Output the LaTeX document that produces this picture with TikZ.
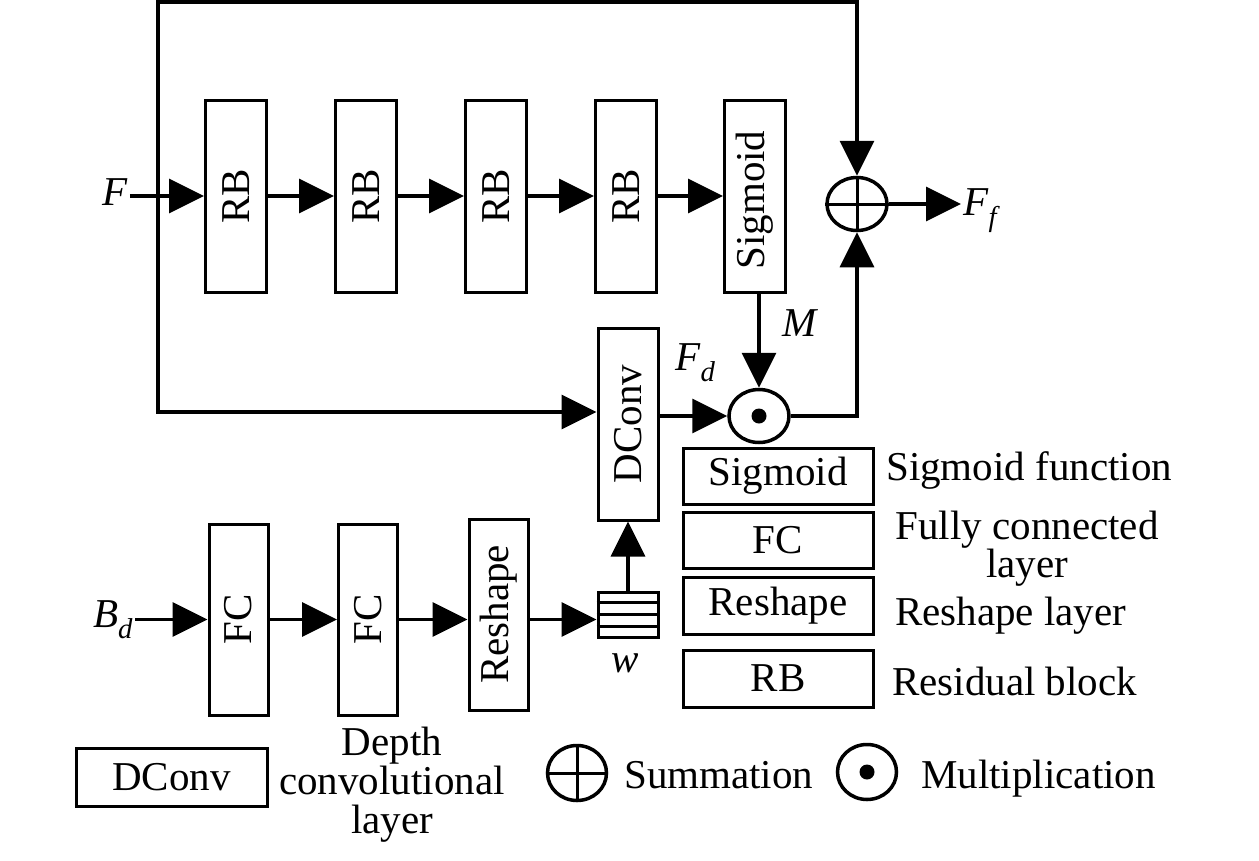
\documentclass[tikz,border=0pt]{standalone}
\usepackage{fontspec}
\setmainfont{Liberation Serif}
\usetikzlibrary{arrows.meta, shapes.geometric, calc}

\begin{document}
\begin{tikzpicture}[x=1pt, y=-1pt,
    font=\fontsize{41}{37}\selectfont, inner sep=2pt,
    block/.style={draw, line width=3pt, inner sep=0pt},
    vblock/.style={block, minimum width=61pt, minimum height=192pt},
    lgbox/.style={block, minimum width=190pt, minimum height=56pt},
    opnode/.style={draw, ellipse, line width=3.5pt, minimum width=60pt, minimum height=53pt, inner sep=0pt},
    wire/.style={line width=3.5pt},
    flow/.style={wire, -{Triangle[length=35pt, width=34pt]}}]
  \useasboundingbox (0,0) rectangle (1259,860);

  % upper branch
  \node[anchor=base west] (fin) at (100,205) {\textit{F}};
  \node[vblock] (rb1) at (236,196) {\rotatebox{90}{RB}};
  \node[vblock] (rb2) at (366,196) {\rotatebox{90}{RB}};
  \node[vblock] (rb3) at (496,196) {\rotatebox{90}{RB}};
  \node[vblock] (rb4) at (626,196) {\rotatebox{90}{RB}};
  \node[vblock] (sig) at (755,196) {\rotatebox{90}{Sigmoid\hspace*{8pt}}};
  \node[opnode] (sum) at (857,204) {};
  \draw[line width=3pt] (sum.north) -- (sum.south) (sum.west) -- (sum.east);
  \node[opnode] (mul) at (759,416) {};
  \fill (mul.center) circle (7.5);
  \node[vblock, minimum width=60pt] (dconv) at (628,424) {\rotatebox{90}{DConv}};
  \node[anchor=base west] (ff) at (961,215) {\textit{F}\textsubscript{\textit{f}}};
  \node[anchor=base west] (mlab) at (780,336) {\textit{M}};
  \node[anchor=base west] (fdlab) at (673,370) {\textit{F}\textsubscript{\textit{d}}};

  \coordinate (jf) at (158,196);
  \coordinate (top) at (158,2);
  \coordinate (jd) at (158,412);

  \draw[wire] (fin.east |- jf) -- (jf);
  \draw[flow] (jf) -- (rb1.west);
  \foreach \a/\b in {rb1/rb2, rb2/rb3, rb3/rb4, rb4/sig}
    \draw[flow] (\a.east) -- (\b.west);
  \draw[flow] (jf) -- (top) -| (sum.north);
  \draw[flow] (jf) -- (jd) -- (jd -| dconv.west);
  \draw[flow] (sig.south -| mul.north) -- (mul.north);
  \draw[flow] (dconv.east |- mul.west) -- (mul.west);
  \draw[flow] (mul.east) -| (sum.south);
  \draw[flow] (sum.east) -- (sum.east -| ff.west);

  % lower branch
  \node[anchor=base west] (bd) at (91,627) {\textit{B}\textsubscript{\textit{d}}};
  \node[vblock, minimum width=59pt, minimum height=191pt] (fc1) at (238.5,619.5) {\rotatebox{90}{FC}};
  \node[vblock, minimum width=59pt, minimum height=191pt] (fc2) at (368,619.5) {\rotatebox{90}{FC}};
  \node[vblock, minimum width=59pt, minimum height=191pt] (resh) at (498.5,614.5) {\rotatebox{90}{Reshape}};
  \node[block, minimum width=60pt, minimum height=45pt] (wvec) at (628,614.5) {};
  \foreach \k in {1,2,3}
    \draw[line width=2.5pt] ($(wvec.north west)!\k/4!(wvec.south west)$) -- ($(wvec.north east)!\k/4!(wvec.south east)$);
  \node[anchor=base] (wlab) at (625,672) {\textit{w}};

  \draw[flow] (bd.east |- fc1.west) -- (fc1.west);
  \draw[flow] (fc1.east) -- (fc2.west);
  \draw[flow] (fc2.east) -- (fc2.east -| resh.west);
  \draw[flow] (fc2.east -| resh.east) -- (fc2.east -| wvec.west);
  \draw[flow] (wvec.north) -- (dconv.south);

  % legend
  \node[lgbox] (lsig) at (778,476) {Sigmoid};
  \node[lgbox] (lfc) at (778,540) {FC};
  \node[lgbox, minimum height=57pt] (lresh) at (778,605.5) {Reshape};
  \node[lgbox, minimum height=57pt] (lrb) at (778,678.5) {RB};
  \node[anchor=base west] (tsig) at (884,480) {Sigmoid function};
  \node[align=center] (tfc) at (1027,549) {Fully connected\\layer};
  \node[anchor=base west] (tresh) at (893,625) {Reshape layer};
  \node[anchor=base west] (trb) at (890,695) {Residual block};

  \node[lgbox, minimum width=191pt, minimum height=58pt] (ldconv) at (171.5,777) {DConv};
  \node[align=center, font=\fontsize{41}{39}\selectfont] (tdconv) at (392,785) {Depth\\convolutional\\layer};

  \node[opnode, minimum width=59pt, minimum height=55pt] (lsum) at (577,773) {};
  \draw[line width=3pt] (lsum.north) -- (lsum.south) (lsum.west) -- (lsum.east);
  \node[anchor=base west] (tsum) at (622,788) {Summation};
  \node[opnode, minimum width=59pt, minimum height=55pt] (lmul) at (867,772) {};
  \fill (lmul.center) circle (7.5);
  \node[anchor=base west] (tmul) at (919,788) {Multiplication};
\end{tikzpicture}
\end{document}
